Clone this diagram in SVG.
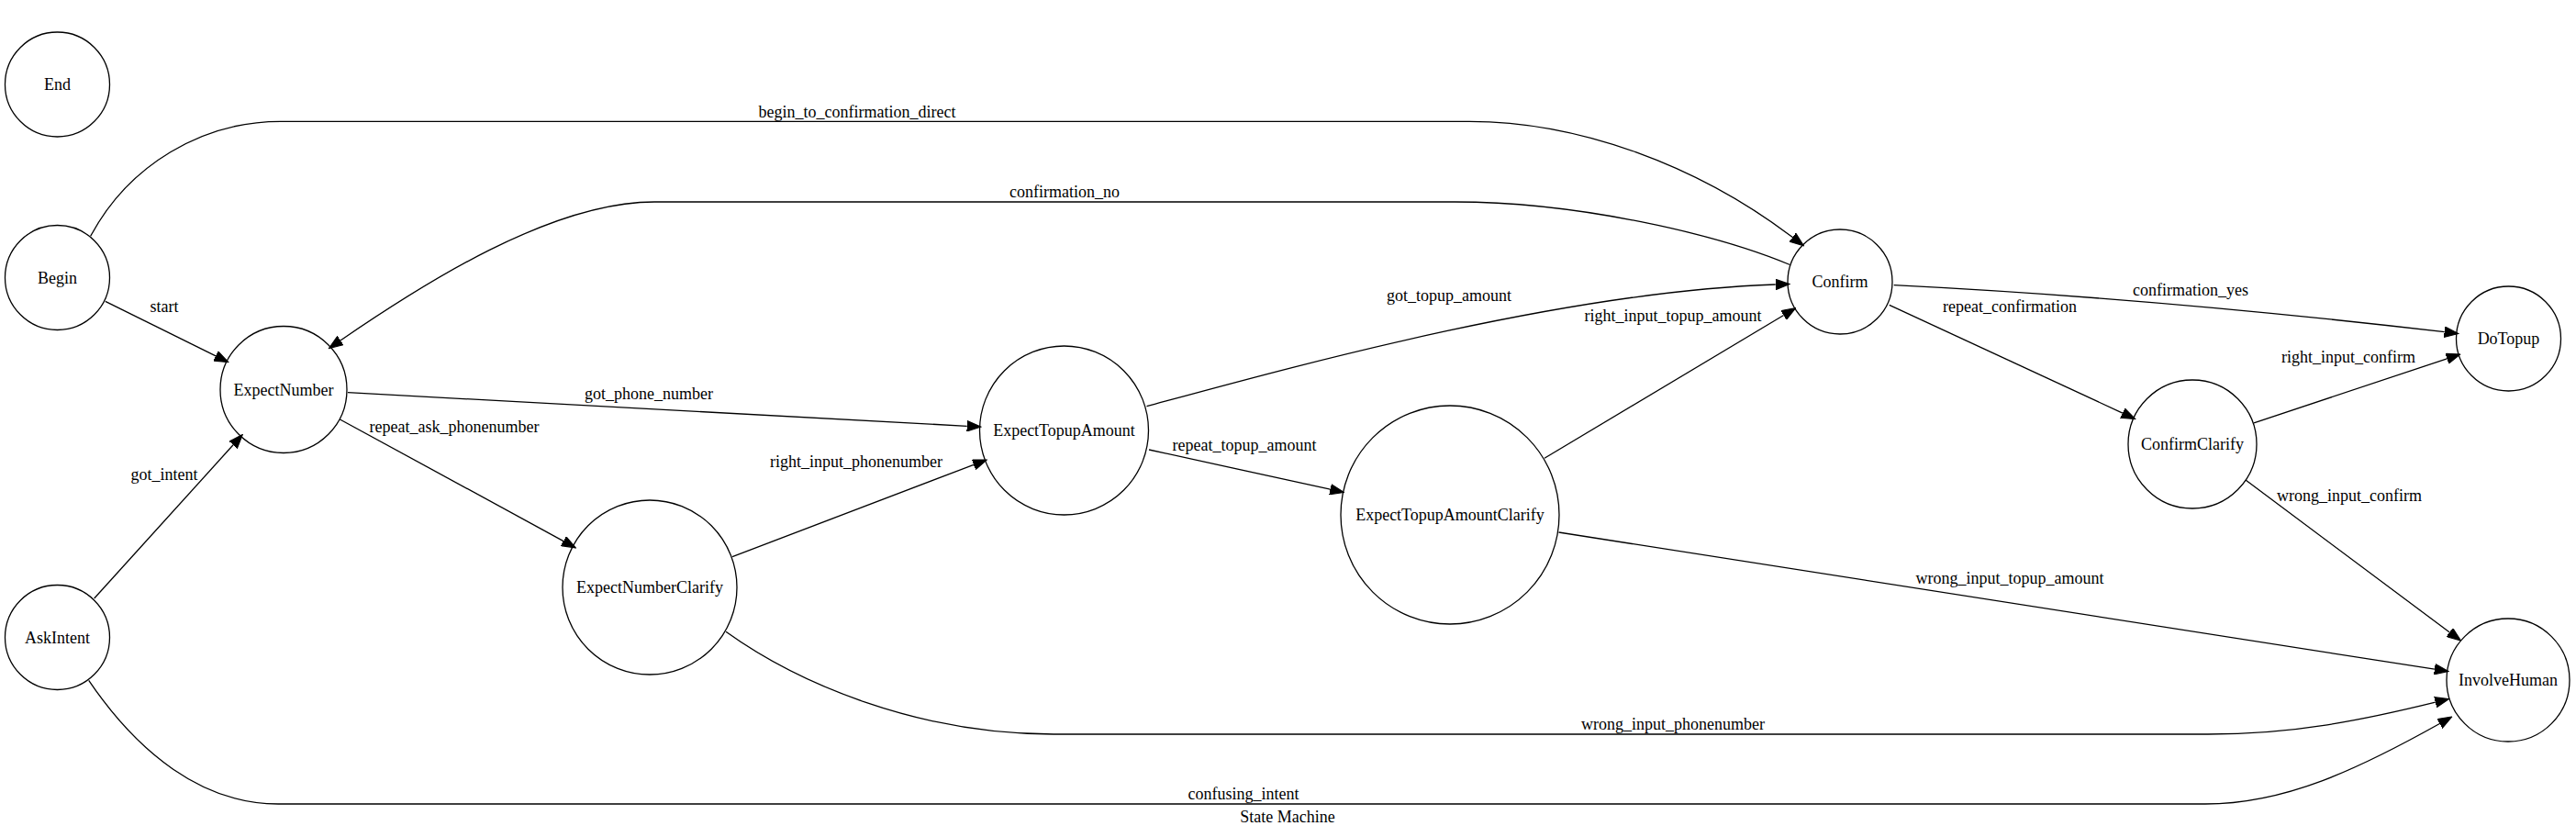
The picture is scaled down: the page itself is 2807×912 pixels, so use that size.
<svg xmlns="http://www.w3.org/2000/svg" width="2807" height="912" viewBox="0 0 2807 912">
<style>
.n ellipse{fill:none;stroke:#000;stroke-width:1.3}
text{font-family:"Liberation Serif","Times New Roman",serif;font-size:18px;fill:#000;text-anchor:middle}
.e path{fill:none;stroke:#000;stroke-width:1.3;marker-end:url(#ah)}
</style>
<defs>
<marker id="ah" markerUnits="userSpaceOnUse" markerWidth="16" markerHeight="12" refX="0" refY="5" orient="auto" viewBox="0 0 14 10">
<path d="M0,0 L13.3,5 L0,10 Z" fill="#000" stroke="#000" stroke-width="1"/>
</marker>
</defs>
<rect width="2807" height="912" fill="#fff"/>
<g id="edges" class="e">
<path d="M114.8,328.3 L235.1,387.9"/>
<path d="M102.7,652 L254.1,484.8"/>
<path d="M98.7,257.3 C140,180 220,132 306.7,132.3 H1600 C1720,132 1850,180 1953.3,258.6"/>
<path d="M1950.5,288.5 C1870,255 1720,220 1585,220 H713 C600,220 460,310 371,371"/>
<path d="M378.9,427.7 L1053.7,464.3"/>
<path d="M370,456.7 L614,589.6"/>
<path d="M798,606.7 L1061,506.4"/>
<path d="M791,688.3 C870,745 1000,800 1148,800 H2406 C2500,800 2576,784.4 2653.8,765.2"/>
<path d="M96.7,741.3 C150,820 220,876 303,876 H2403 C2490,876 2570,838 2658.4,788.5"/>
<path d="M1249.5,442.7 C1400,402 1700,318 1934.7,310"/>
<path d="M1683,499.3 L1943.6,343.5"/>
<path d="M1252,490 L1449.5,533.2"/>
<path d="M1698.5,580 L2652.9,729.2"/>
<path d="M2063.7,310.7 Q2350,325 2663.7,361.7"/>
<path d="M2058.8,332.4 L2312.9,450.1"/>
<path d="M2456,460.9 L2666.4,390.8"/>
<path d="M2447,523 L2669.3,689"/>
</g>
<g id="edge-labels">
<text x="179" y="340">start</text>
<text x="179" y="523">got_intent</text>
<text x="934" y="128">begin_to_confirmation_direct</text>
<text x="1160" y="215">confirmation_no</text>
<text x="707" y="435">got_phone_number</text>
<text x="495" y="471">repeat_ask_phonenumber</text>
<text x="933" y="509">right_input_phonenumber</text>
<text x="1823" y="795">wrong_input_phonenumber</text>
<text x="1355" y="871">confusing_intent</text>
<text x="1579" y="328">got_topup_amount</text>
<text x="1823" y="350">right_input_topup_amount</text>
<text x="1356" y="491">repeat_topup_amount</text>
<text x="2190" y="636">wrong_input_topup_amount</text>
<text x="2387" y="322">confirmation_yes</text>
<text x="2190" y="340">repeat_confirmation</text>
<text x="2559" y="395">right_input_confirm</text>
<text x="2560" y="546">wrong_input_confirm</text>
</g>
<g id="End" class="n"><ellipse cx="62.5" cy="92" rx="57" ry="57"/><text x="62.5" y="98">End</text></g>
<g id="Begin" class="n"><ellipse cx="62.5" cy="302.5" rx="57" ry="57"/><text x="62.5" y="308.5">Begin</text></g>
<g id="AskIntent" class="n"><ellipse cx="62.5" cy="694.5" rx="57" ry="57"/><text x="62.5" y="700.5">AskIntent</text></g>
<g id="ExpectNumber" class="n"><ellipse cx="309" cy="424.5" rx="69" ry="69"/><text x="309" y="430.5">ExpectNumber</text></g>
<g id="ExpectNumberClarify" class="n"><ellipse cx="708" cy="640" rx="95" ry="95"/><text x="708" y="646">ExpectNumberClarify</text></g>
<g id="ExpectTopupAmount" class="n"><ellipse cx="1159.5" cy="469" rx="92" ry="92"/><text x="1159.5" y="475">ExpectTopupAmount</text></g>
<g id="ExpectTopupAmountClarify" class="n"><ellipse cx="1580" cy="561" rx="119" ry="119"/><text x="1580" y="567">ExpectTopupAmountClarify</text></g>
<g id="Confirm" class="n"><ellipse cx="2005" cy="307" rx="57" ry="57"/><text x="2005" y="313">Confirm</text></g>
<g id="ConfirmClarify" class="n"><ellipse cx="2389" cy="484" rx="70" ry="70"/><text x="2389" y="490">ConfirmClarify</text></g>
<g id="DoTopup" class="n"><ellipse cx="2733.5" cy="369" rx="57" ry="57"/><text x="2733.5" y="375">DoTopup</text></g>
<g id="InvolveHuman" class="n"><ellipse cx="2733" cy="741" rx="67" ry="67"/><text x="2733" y="747">InvolveHuman</text></g>
<text id="title" x="1403" y="896">State Machine</text>
</svg>
